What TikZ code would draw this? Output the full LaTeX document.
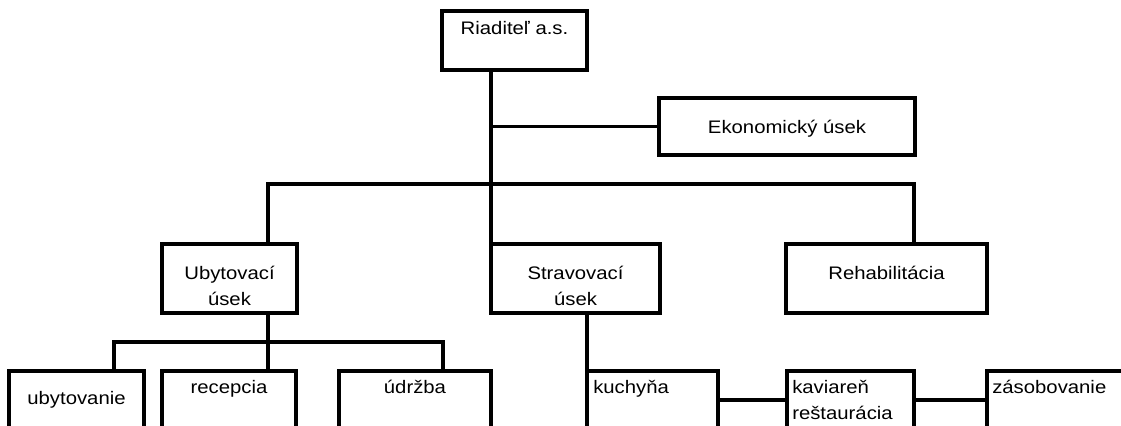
\documentclass[tikz,border=0pt]{standalone}
\usepackage{fontspec}
\setmainfont{Liberation Sans}[FakeStretch=1.12]
\usepackage{tikz}
\usetikzlibrary{positioning}
\newdimen\px
\px=0.75pt

\begin{document}
\begin{tikzpicture}[x=0.75pt, y=-0.75pt,
    box/.style={draw, rectangle, line width=2.4pt, outer sep=0pt, inner sep=0pt},
    upper/.style={box, minimum height=69\px},
    lower/.style={box, minimum height=58\px},
    lbl/.style={inner sep=0pt, font=\fontsize{13.6}{19.5}\selectfont},
    link/.style={line width=2.4pt}]
    \useasboundingbox (0,0) rectangle (1121,425);
    \clip (0,0) rectangle (1121,425);

    \node[box, minimum width=145\px, minimum height=59\px, anchor=north west] (dir) at (442,11) {};
    \node[lbl, anchor=base] (dirtxt) at ([yshift=-23\px]dir.north) {Riaditeľ a.s.};

    \node[box, minimum width=256\px, minimum height=57\px, anchor=north west] (eko) at (659,98) {};
    \node[lbl, anchor=base] (ekotxt) at ([yshift=-35\px]eko.north) {Ekonomický úsek};

    \node[upper, minimum width=135\px, anchor=north west] (ubyt) at (162,244) {};
    \node[lbl, anchor=base, align=center] (ubyttxt) at ([yshift=-61\px]ubyt.north) {Ubytovací\\úsek};

    \node[upper, minimum width=169\px, right=194\px of ubyt] (strav) {};
    \node[lbl, anchor=base, align=center] (stravtxt) at ([yshift=-61\px]strav.north) {Stravovací\\úsek};

    \node[upper, minimum width=201\px, right=126\px of strav] (rehab) {};
    \node[lbl, anchor=base] (rehabtxt) at ([yshift=-35\px]rehab.north) {Rehabilitácia};

    \node[lower, minimum width=135\px, anchor=north west] (ubyv) at (9,371) {};
    \node[lbl, anchor=base] (ubyvtxt) at ([yshift=-33\px]ubyv.north) {ubytovanie};

    \node[lower, minimum width=134\px, right=18\px of ubyv] (recep) {};
    \node[lbl, anchor=base] (receptxt) at ([yshift=-22\px]recep.north) {recepcia};

    \node[lower, minimum width=152\px, right=43\px of recep] (udrz) {};
    \node[lbl, anchor=base] (udrztxt) at ([yshift=-22\px]udrz.north) {údržba};

    \node[lower, minimum width=131\px, anchor=north west] (kuch) at (587,371) {};
    \node[lbl, anchor=base west] (kuchtxt) at ([shift={(6\px,-22\px)}]kuch.north west) {kuchyňa};

    \node[lower, minimum width=127\px, right=69\px of kuch] (kav) {};
    \node[lbl, anchor=base west, align=left] (kavtxt) at ([shift={(5\px,-48\px)}]kav.north west) {kaviareň\\reštaurácia};

    \node[lower, minimum width=160\px, right=73\px of kav] (zasob) {};
    \node[lbl, anchor=base west] (zasobtxt) at ([shift={(5\px,-22\px)}]zasob.north west) {zásobovanie};

    \coordinate (busL) at (268,184);
    \coordinate (busR) at (914,184);
    \coordinate (subL) at (114,342);
    \coordinate (subR) at (443,342);

    \draw[link] (dir.south -| strav.north west) -- (strav.north west);
    \draw[link] (eko.west) -- (eko.west -| strav.north west);
    \draw[link] (ubyt.north -| busL) -- (busL) -- (busR) -- (rehab.north -| busR);
    \draw[link] (ubyt.south -| busL) -- (recep.north -| busL);
    \draw[link] (ubyv.north -| subL) -- (subL) -- (subR) -- (udrz.north -| subR);
    \draw[link] (strav.south -| kuch.north west) -- (kuch.north west);
    \draw[link] (kuch.east) -- (kav.west);
    \draw[link] (kav.east) -- (zasob.west);
\end{tikzpicture}
\end{document}
